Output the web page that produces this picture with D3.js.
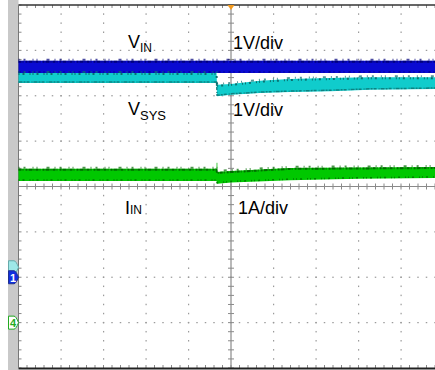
<!DOCTYPE html>
<html><head><meta charset="utf-8">
<script src="https://cdn.jsdelivr.net/npm/d3@7"></script>
<style>body{margin:0;background:#fff}svg{display:block}</style>
</head><body><svg id="c" width="435" height="370"></svg>
<script>
// Time in horizontal divisions (0..10), level in vertical divisions (-4..4, 0 = centre)
const vinT   = [0, 2, 4, 4.67, 5, 6, 7, 8, 9, 10];
const vinHi  = [2.77, 2.77, 2.77, 2.77, 2.77, 2.77, 2.77, 2.77, 2.77, 2.77];
const vinLo  = [2.50, 2.50, 2.50, 2.50, 2.50, 2.50, 2.50, 2.50, 2.50, 2.50];

const vsysT  = [0, 2, 4, 4.66, 4.67, 5, 5.68, 6.39, 7.33, 8.27, 10];
const vsysHi = [2.50, 2.50, 2.50, 2.50, 2.24, 2.26, 2.33, 2.37, 2.39, 2.41, 2.41];
const vsysLo = [2.28, 2.28, 2.28, 2.28, 1.99, 2.02, 2.06, 2.08, 2.10, 2.13, 2.15];

const iinT   = [0, 2, 4, 4.66, 4.67, 5, 6.39, 8, 10];
const iinHi  = [0.39, 0.39, 0.39, 0.39, 0.32, 0.34, 0.41, 0.42, 0.43];
const iinLo  = [0.12, 0.12, 0.12, 0.12, 0.06, 0.09, 0.14, 0.17, 0.19];

const traceNames = ["VIN", "VSYS", "IIN"];
const scaleLabels = ["1V/div", "1V/div", "1A/div"];
const chOffsets = [-1.78, -2, -3];   // channel ground markers (div): ch2, ch1, ch4
const chNames = ["2", "1", "4"];

const svg = d3.select("#c");
const x = d3.scaleLinear().domain([0, 10]).range([18.5, 443.5]);
const y = d3.scaleLinear().domain([4, -4]).range([5, 368]);

// left grey strip
svg.append("rect").attr("x", 8).attr("y", 0).attr("width", 10.5).attr("height", 370).attr("fill", "#c9c9c9");

const g = svg.append("g");
const minorX = d3.range(0, 50.01, 1).map(d => d / 5);
const minorY = d3.range(-20, 20.01, 1).map(d => d / 5);

// dotted grid
for (let k = 1; k < 10; k++) {
  if (k === 5) continue;
  g.selectAll(null).data(minorY.filter(v => v > -4 && v < 4)).enter().append("rect")
    .attr("x", x(k) - 0.5).attr("y", d => y(d) - 0.75).attr("width", 1.2).attr("height", 1.5).attr("fill", "#9a9a9a");
}
for (let j = -3; j <= 3; j++) {
  if (j === 0) continue;
  g.selectAll(null).data(minorX.filter(v => v > 0 && v < 10)).enter().append("rect")
    .attr("x", d => x(d) - 0.75).attr("y", y(j) - 0.6).attr("width", 1.5).attr("height", 1.2).attr("fill", "#9a9a9a");
}
// centre lines with ticks
g.append("line").attr("x1", x(5)).attr("x2", x(5)).attr("y1", y(4)).attr("y2", y(-4)).attr("stroke", "#8a8a8a").attr("stroke-width", 1.2);
g.append("line").attr("x1", x(0)).attr("x2", x(10)).attr("y1", y(0)).attr("y2", y(0)).attr("stroke", "#8a8a8a").attr("stroke-width", 1.2);
g.selectAll(null).data(minorY).enter().append("line")
  .attr("x1", x(5) - 3).attr("x2", x(5) + 3).attr("y1", d => y(d)).attr("y2", d => y(d)).attr("stroke", "#8a8a8a");
g.selectAll(null).data(minorX).enter().append("line")
  .attr("x1", d => x(d)).attr("x2", d => x(d)).attr("y1", y(0) - 3).attr("y2", y(0) + 3).attr("stroke", "#8a8a8a");
// border ticks
g.selectAll(null).data(minorX).enter().append("line")
  .attr("x1", d => x(d)).attr("x2", d => x(d)).attr("y1", y(4)).attr("y2", y(4) + 3).attr("stroke", "#8a8a8a");
g.selectAll(null).data(minorX).enter().append("line")
  .attr("x1", d => x(d)).attr("x2", d => x(d)).attr("y1", y(-4)).attr("y2", y(-4) - 3).attr("stroke", "#8a8a8a");
g.selectAll(null).data(minorY).enter().append("line")
  .attr("x1", x(0)).attr("x2", x(0) + 3).attr("y1", d => y(d)).attr("y2", d => y(d)).attr("stroke", "#8a8a8a");
// border
g.append("line").attr("x1", x(0)).attr("x2", 435).attr("y1", y(4)).attr("y2", y(4)).attr("stroke", "#333").attr("stroke-width", 1.3);
g.append("line").attr("x1", x(0)).attr("x2", 435).attr("y1", y(-4) + 0.5).attr("y2", y(-4) + 0.5).attr("stroke", "#222").attr("stroke-width", 2);
g.append("line").attr("x1", x(0)).attr("x2", x(0)).attr("y1", y(4)).attr("y2", y(-4)).attr("stroke", "#777").attr("stroke-width", 1);

// traces
function band(T, Hi, Lo, fill, edge, dashTop, dashBot) {
  const data = T.map((t, i) => ({ t, hi: Hi[i], lo: Lo[i] }));
  const area = d3.area().x(d => x(d.t)).y0(d => y(d.lo)).y1(d => y(d.hi));
  svg.append("path").datum(data).attr("d", area).attr("fill", fill);
  const top = d3.line().x(d => x(d.t)).y(d => y(d.hi) + 1);
  const bot = d3.line().x(d => x(d.t)).y(d => y(d.lo) - 1);
  svg.append("path").datum(data).attr("d", top).attr("fill", "none").attr("stroke", edge).attr("stroke-width", 2).attr("stroke-dasharray", dashTop);
  svg.append("path").datum(data).attr("d", bot).attr("fill", "none").attr("stroke", edge).attr("stroke-width", 1.5).attr("stroke-dasharray", dashBot).attr("opacity", 0.8);
  const fuzz = d3.line().x(d => x(d.t)).y(d => y(d.hi) - 1);
  svg.append("path").datum(data).attr("d", fuzz).attr("fill", "none").attr("stroke", edge).attr("stroke-width", 2).attr("stroke-dasharray", "1 4 2 7 1 3 1 9 3 5").attr("opacity", 0.7);
}
band(vinT, vinHi, vinLo, "#0a0ad2", "#00007a", "3 1 1 2 2 1 4 1 1 1", "2 3 1 4");
band(vsysT, vsysHi, vsysLo, "#10cccc", "#0a6f6f", "1 3 2 5 1 2", "4 1 2 1 3 2 1 1");
band(iinT, iinHi, iinLo, "#00c800", "#006b00", "3 1 1 2 2 1 4 1 1 1", "1 3 2 5 1 2");
// small glitch on IIN at the step
svg.append("line").attr("x1", x(4.67)).attr("x2", x(4.67)).attr("y1", y(iinHi[3])).attr("y2", y(iinHi[3]) - 6)
  .attr("stroke", "#4c4").attr("stroke-width", 1);

// trigger marker
svg.append("path").attr("d", `M${x(5) - 3.5},${y(4)} L${x(5) + 3.5},${y(4)} L${x(5)},${y(4) + 5} Z`).attr("fill", "#f39a1e");

// channel markers
function marker(off, name, fill, stroke, txt) {
  const cy = y(off);
  svg.append("path").attr("d", `M8.5,${cy - 6.5} L14,${cy - 6.5} Q16,${cy - 6.5} 18.5,${cy} Q16,${cy + 6.5} 14,${cy + 6.5} L8.5,${cy + 6.5} Z`)
    .attr("fill", fill).attr("stroke", stroke).attr("stroke-width", 1);
  if (txt) svg.append("text").attr("x", 13).attr("y", cy + 4.5).attr("text-anchor", "middle")
    .attr("font-family", "Liberation Sans, Arial, sans-serif").attr("font-size", 11).attr("font-weight", "bold")
    .attr("fill", txt).text(name);
}
marker(chOffsets[0], chNames[0], "#9ee8e8", "#6aa", null);
marker(chOffsets[1], chNames[1], "#1030e0", "#203090", "#fff");
marker(chOffsets[2], chNames[2], "#fff", "#2a2", "#2a2");

// labels
const font = "Liberation Sans, Arial, sans-serif";
function lbl(xp, yp, main, sub, subSize, subDy) {
  const t = svg.append("text").attr("x", xp).attr("y", yp).attr("font-family", font).attr("font-size", 18).attr("fill", "#000");
  t.append("tspan").text(main);
  if (sub) t.append("tspan").attr("font-size", subSize).attr("dy", subDy).text(sub);
}
lbl(128, 48, traceNames[0].slice(0, 1), traceNames[0].slice(1), 12, 4);
lbl(128, 115, traceNames[1].slice(0, 1), traceNames[1].slice(1), 13, 5);
lbl(125, 214, traceNames[2].slice(0, 1), traceNames[2].slice(1), 12, 0);
lbl(233, 49, scaleLabels[0]);
lbl(233, 116, scaleLabels[1]);
lbl(238, 214, scaleLabels[2]);
</script></body></html>
